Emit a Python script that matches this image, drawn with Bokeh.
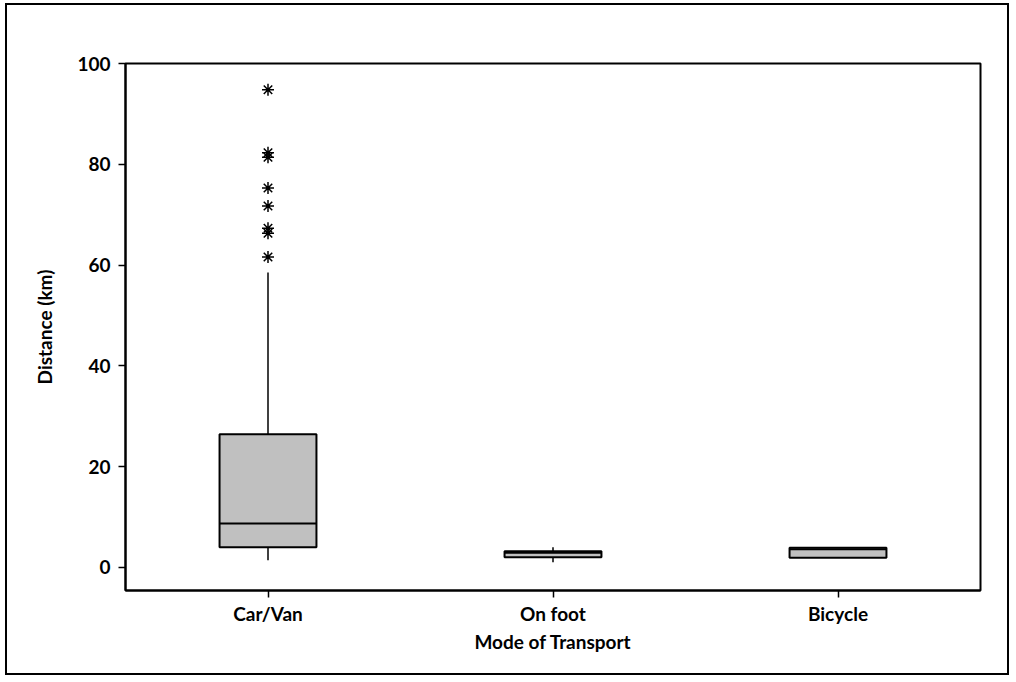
from bokeh.plotting import figure
from bokeh.models import Range1d, FixedTicker
from bokeh.embed import file_html
from bokeh.resources import INLINE

# ---- data ----
categories = ["Car/Van", "On foot", "Bicycle"]
whisker_low = [1.4, 1.0, 1.9]
q1 = [4.0, 2.0, 1.9]
median = [8.7, 2.9, 3.6]
q3 = [26.4, 3.2, 3.9]
whisker_high = [58.5, 4.0, 3.9]
car_outliers = [94.8, 82.3, 81.4, 75.3, 71.7, 67.3, 66.3, 61.6]
y_ticks = [0, 20, 40, 60, 80, 100]

FONT = "Lato"
xs = [i + 1 for i in range(len(categories))]
half = 0.17

p = figure(width=1004, height=672, output_backend="svg", toolbar_location=None,
           x_range=Range1d(0.5, 3.5), y_range=Range1d(-4.6, 100))
p.styles = {"border": "2px solid #000", "margin": "3px 0 0 5px"}
p.min_border_left = 118
p.min_border_right = 31
p.min_border_top = 58
p.min_border_bottom = 87
p.outline_line_color = "black"
p.outline_line_width = 2
p.grid.visible = False
p.background_fill_color = "white"
p.border_fill_color = "white"

# whiskers
p.segment(x0=xs, y0=whisker_low, x1=xs, y1=q1, line_color="black", line_width=1.5)
p.segment(x0=xs, y0=q3, x1=xs, y1=whisker_high, line_color="black", line_width=1.5)
# boxes
p.vbar(x=xs, width=2 * half, bottom=q1, top=q3, fill_color="#c0c0c0",
       line_color="black", line_width=2)
# medians
p.segment(x0=[x - half for x in xs], y0=median, x1=[x + half for x in xs], y1=median,
          line_color="black", line_width=2)
# outliers
p.scatter(x=[xs[0]] * len(car_outliers), y=car_outliers, marker="asterisk",
          size=12, line_color="black", line_width=1.5)

for ax in (p.xaxis[0], p.yaxis[0]):
    ax.axis_line_color = "black"
    ax.axis_line_width = 2
    ax.major_tick_line_color = "black"
    ax.major_tick_line_width = 1.5
    ax.major_tick_out = 7
    ax.major_tick_in = 0
    ax.minor_tick_line_color = None
    ax.major_label_text_font = FONT
    ax.major_label_text_font_style = "bold"
    ax.major_label_text_font_size = "19px"
    ax.major_label_text_color = "black"
    ax.axis_label_text_font = FONT
    ax.axis_label_text_font_style = "bold"
    ax.axis_label_text_font_size = "19px"
    ax.axis_label_text_color = "black"

p.xaxis.ticker = FixedTicker(ticks=xs)
p.xaxis.major_label_overrides = {x: c for x, c in zip(xs, categories)}
p.xaxis.axis_label = "Mode of Transport"
p.xaxis.major_label_standoff = 4
p.xaxis.axis_label_standoff = 2
p.yaxis.ticker = FixedTicker(ticks=y_ticks)
p.yaxis.axis_label = "Distance (km)"
p.yaxis.major_label_standoff = 8
p.yaxis.axis_label_standoff = 18

open("out.html", "w").write(file_html(p, INLINE))
